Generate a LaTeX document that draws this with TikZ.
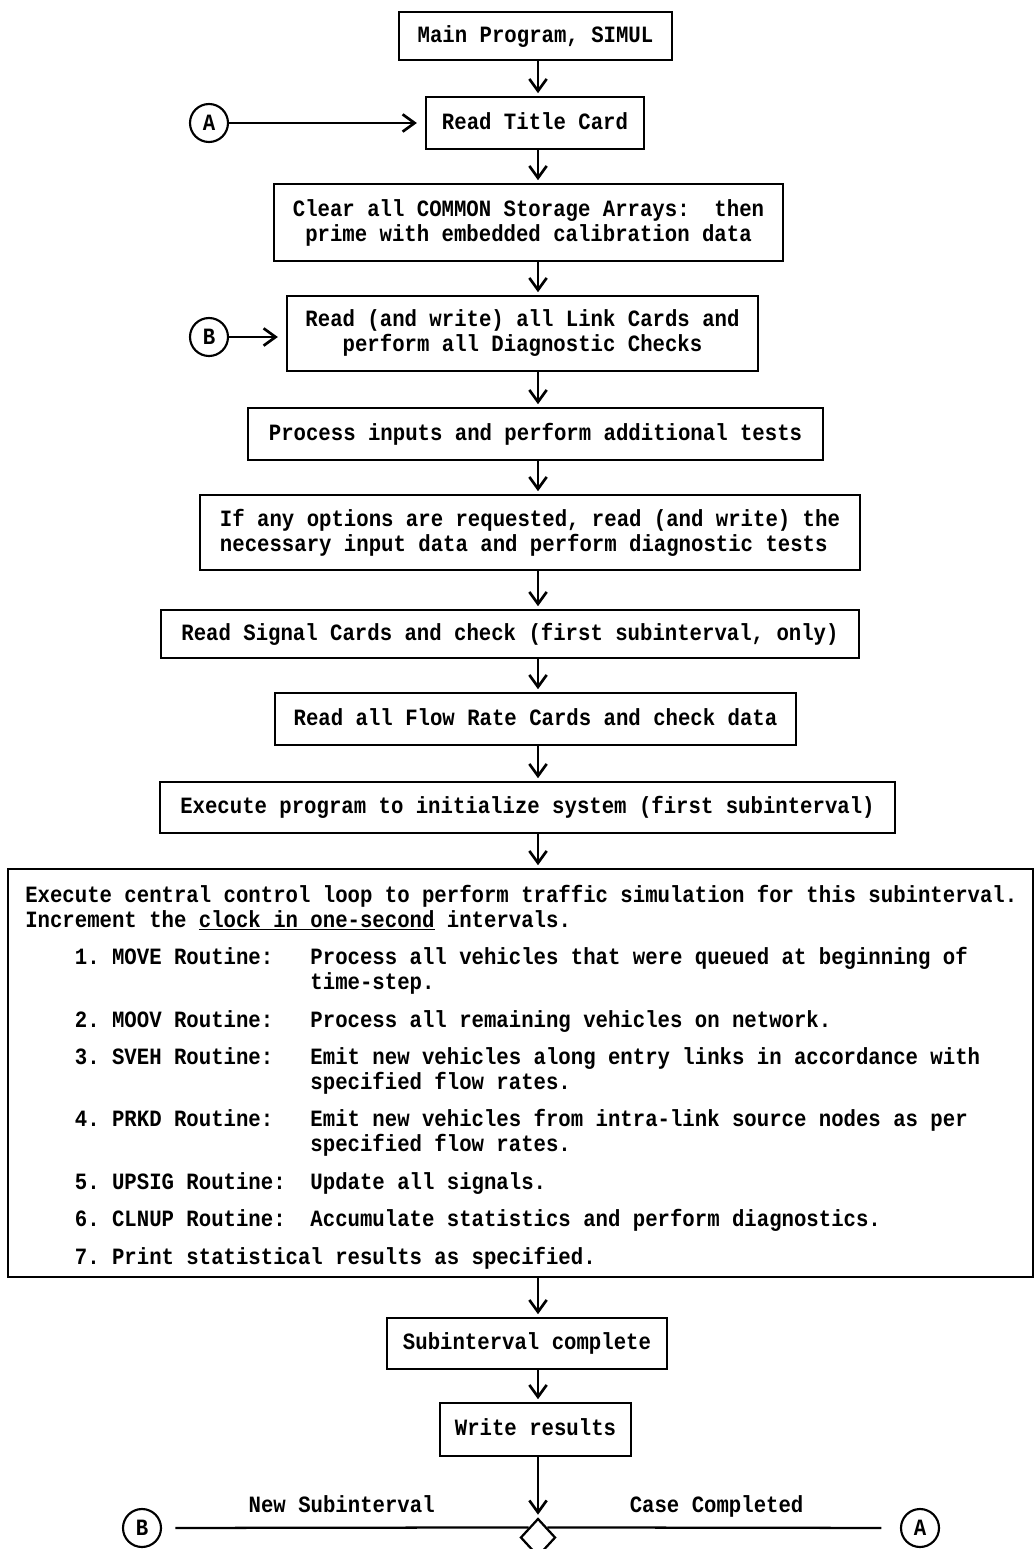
\documentclass[tikz,border=0pt]{standalone}
\usepackage{fontspec}
\newfontfamily\mono{Liberation Mono}[FakeStretch=0.8857]
\usetikzlibrary{arrows.meta,shapes.geometric}
\newcommand\bfont{\mono\bfseries\fontsize{17.5pt}{18.75pt}\selectfont\frenchspacing}
\begin{document}
\begin{tikzpicture}[x=0.75pt,y=-0.75pt,
  box/.style={draw, line width=1.7pt, inner sep=0pt, align=center, font=\bfont},
  one/.style={text height=12.5pt, text depth=3.5pt},
  circ/.style={draw, circle, line width=1.6pt, minimum size=28.5pt, inner sep=0pt, font=\bfont},
  txt/.style={anchor=base west, inner sep=0pt, font=\bfont},
  lbl/.style={anchor=base, inner sep=0pt, yshift=11.25pt, font=\bfont},
  arr/.style={-{Straight Barb[length=9pt,width=13pt,line width=2pt]}, line width=1.7pt, shorten >=2pt},
  ln/.style={line width=1.7pt}]
\clip (0,0) rectangle (1035,1549);
\coordinate (ax) at (538,0);
% boxes
\node[box,one,minimum width=204.75pt,minimum height=36pt] (main) at (535.5,36) {Main Program, SIMUL};
\node[box,one,minimum width=163.5pt,minimum height=39pt] (title) at (535,123) {Read Title Card};
\node[box,minimum width=381.75pt,minimum height=57.75pt] (clear) at (528.5,222.5) {Clear all COMMON Storage Arrays:~ then\\prime with embedded calibration data};
\node[box,minimum width=353.25pt,minimum height=56.25pt] (link) at (522.5,333.5) {Read (and write) all Link Cards and\\perform all Diagnostic Checks};
\node[box,one,minimum width=431.25pt,minimum height=39pt] (process) at (535.5,434) {Process inputs and perform additional tests};
\node[box,align=left,minimum width=495pt,minimum height=56.25pt] (ifany) at (530,532.5) {If any options are requested, read (and write) the\\necessary input data and perform diagnostic tests};
\node[box,one,minimum width=523.5pt,minimum height=36pt] (signal) at (510,634) {Read Signal Cards and check (first subinterval, only)};
\node[box,one,minimum width=390.75pt,minimum height=39pt] (flow) at (535.5,719) {Read all Flow Rate Cards and check data};
\node[box,one,minimum width=551.25pt,minimum height=38.25pt] (exec) at (527.5,807.5) {Execute program to initialize system (first subinterval)};
\node[box,minimum width=768.75pt,minimum height=306pt] (loop) at (520.5,1073) {};
\node[box,one,minimum width=210pt,minimum height=38.25pt] (subint) at (527,1343.5) {Subinterval complete};
\node[box,one,minimum width=143.25pt,minimum height=39.75pt] (write) at (535.5,1429.5) {Write results};
% loop contents
\node[txt] (h1) at (25,902) {Execute central control loop to perform traffic simulation for this subinterval.};
\node[txt] (h2) at (25,927) {Increment the \underline{clock in one-second} intervals.};
\node[txt] (r1) at (74.6,964) {1. MOVE Routine:};
\node[txt] (d1a) at (310.2,964) {Process all vehicles that were queued at beginning of};
\node[txt] (d1b) at (310.2,989) {time-step.};
\node[txt] (r2) at (74.6,1027) {2. MOOV Routine:};
\node[txt] (d2) at (310.2,1027) {Process all remaining vehicles on network.};
\node[txt] (r3) at (74.6,1064) {3. SVEH Routine:};
\node[txt] (d3a) at (310.2,1064) {Emit new vehicles along entry links in accordance with};
\node[txt] (d3b) at (310.2,1089) {specified flow rates.};
\node[txt] (r4) at (74.6,1126) {4. PRKD Routine:};
\node[txt] (d4a) at (310.2,1126) {Emit new vehicles from intra-link source nodes as per};
\node[txt] (d4b) at (310.2,1151) {specified flow rates.};
\node[txt] (r5) at (74.6,1189) {5. UPSIG Routine:};
\node[txt] (d5) at (310.2,1189) {Update all signals.};
\node[txt] (r6) at (74.6,1226) {6. CLNUP Routine:};
\node[txt] (d6) at (310.2,1226) {Accumulate statistics and perform diagnostics.};
\node[txt] (r7) at (74.6,1264) {7. Print statistical results as specified.};
% connectors
\node[circ] (A1) at (209,123) {A};
\node[circ] (B1) at (209,337) {B};
\draw[arr, shorten >=6pt] (A1) -- (A1 -| title.west);
\draw[arr, shorten >=6pt] (B1) -- (B1 -| link.west);
\draw[arr] (main.south -| ax) -- (title.north -| ax);
\draw[arr] (title.south -| ax) -- (clear.north -| ax);
\draw[arr] (clear.south -| ax) -- (link.north -| ax);
\draw[arr] (link.south -| ax) -- (process.north -| ax);
\draw[arr] (process.south -| ax) -- (ifany.north -| ax);
\draw[arr] (ifany.south -| ax) -- (signal.north -| ax);
\draw[arr] (signal.south -| ax) -- (flow.north -| ax);
\draw[arr] (flow.south -| ax) -- (exec.north -| ax);
\draw[arr] (exec.south -| ax) -- (loop.north -| ax);
\draw[arr] (loop.south -| ax) -- (subint.north -| ax);
\draw[arr] (subint.south -| ax) -- (write.north -| ax);
% bottom decision
\node[draw, diamond, line width=1.7pt, minimum width=26.25pt, minimum height=28.5pt, inner sep=0pt] (dia) at (538,1537.5) {};
\node[circ] (B2) at (142,1528) {B};
\node[circ] (A2) at (920,1528) {A};
\draw[arr] (write.south -| ax) -- (dia.north);
\draw[ln, shorten <=10pt] (B2) -- node[lbl, pos=0.49] (nsl) {New Subinterval} (dia.north west);
\draw[ln, shorten >=14pt] (dia.north east) -- node[lbl, pos=0.48] (ccl) {Case Completed} (A2);
\end{tikzpicture}
\end{document}
